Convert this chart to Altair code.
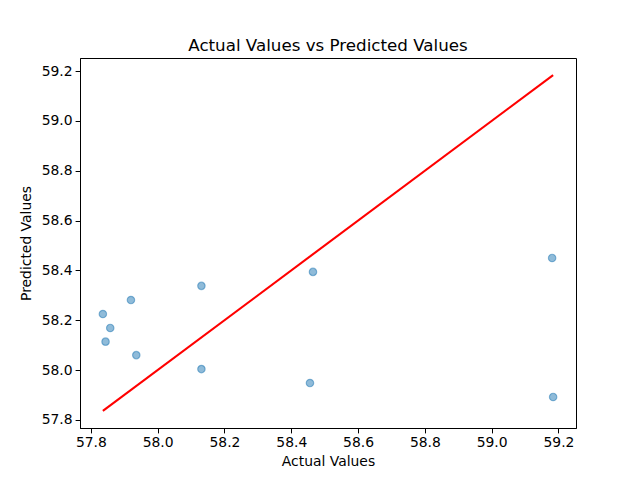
import altair as alt
import pandas as pd

actual = [57.836, 57.858, 57.844, 57.920, 57.936, 58.131, 58.131, 58.465, 58.456, 59.181, 59.184]
predicted = [58.225, 58.169, 58.114, 58.281, 58.060, 58.338, 58.004, 58.394, 57.948, 58.450, 57.892]

line_x = [min(actual), max(actual)]
line_y = [min(actual), max(actual)]

ticks = [57.8, 58.0, 58.2, 58.4, 58.6, 58.8, 59.0, 59.2]
lo, hi = 57.7675, 59.2525

pts = pd.DataFrame({"actual": actual, "predicted": predicted})
ln = pd.DataFrame({"actual": line_x, "predicted": line_y})

FONT = "DejaVu Sans"

xs = alt.Scale(domain=[lo, hi], nice=False, zero=False)
ys = alt.Scale(domain=[lo, hi], nice=False, zero=False)

xax = alt.Axis(values=ticks, format=".1f", title="Actual Values", grid=False,
               tickSize=4.9, labelPadding=3, titlePadding=5)
yax = alt.Axis(values=ticks, format=".1f", title="Predicted Values", grid=False,
               tickSize=4.9, labelPadding=3, titlePadding=8)

scatter = alt.Chart(pts).mark_circle(
    size=55, fill="#1f77b4", fillOpacity=0.5,
    stroke="#1f77b4", strokeOpacity=0.5, strokeWidth=1.2
).encode(
    x=alt.X("actual:Q", scale=xs, axis=xax),
    y=alt.Y("predicted:Q", scale=ys, axis=yax),
)

line = alt.Chart(ln).mark_line(color="red", strokeWidth=2.1).encode(
    x=alt.X("actual:Q", scale=xs),
    y=alt.Y("predicted:Q", scale=ys),
)

chart = alt.layer(scatter, line).properties(
    width=496, height=370,
    title=alt.TitleParams("Actual Values vs Predicted Values", font=FONT, fontSize=16.7,
                          fontWeight="normal", color="black", anchor="middle",
                          baseline="bottom", offset=8, dy=22),
    autosize=alt.AutoSizeParams(type="none"),
    padding={"left": 72, "top": 50, "right": 56, "bottom": 44},
).configure_view(
    stroke="black", strokeWidth=1
).configure_axis(
    labelFont=FONT, titleFont=FONT, labelFontSize=13.9, titleFontSize=13.9,
    labelColor="black", titleColor="black", titleFontWeight="normal",
    domainColor="black", tickColor="black", domainWidth=1, tickWidth=1
)

chart.save("out.html", embed_options={"renderer": "svg", "actions": False})
